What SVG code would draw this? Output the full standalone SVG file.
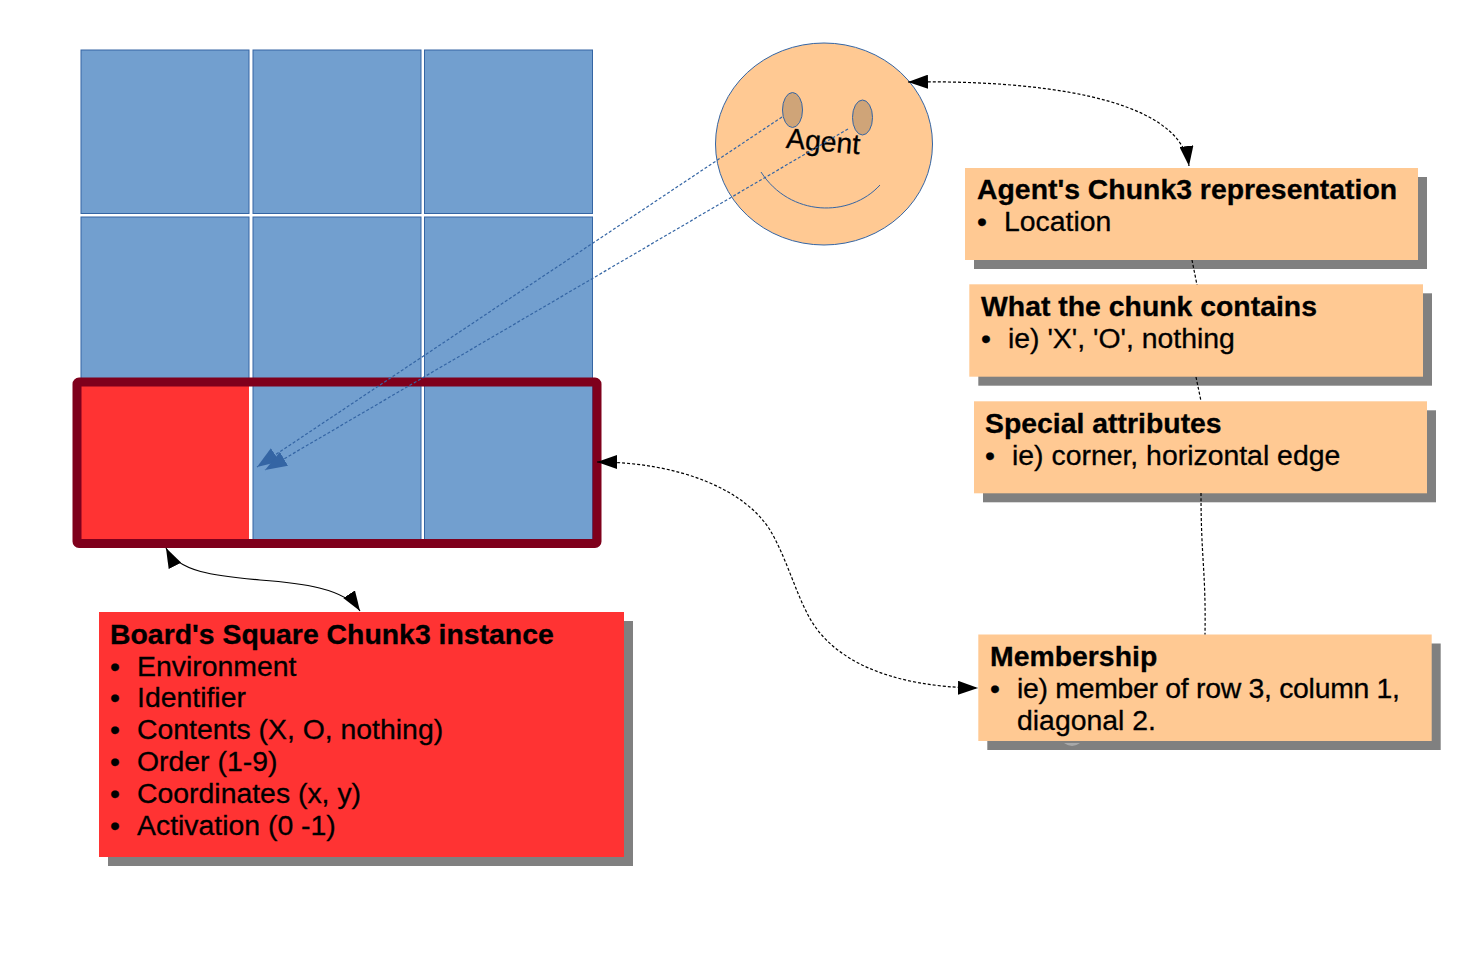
<svg xmlns="http://www.w3.org/2000/svg" width="1482" height="969" viewBox="0 0 1482 969">
<style>
.cell{fill:#729fcf;stroke:#3465a4;stroke-width:1}
.shadow{fill:#808080}
.peach{fill:#ffc993}
.red{fill:#ff3333}
text{font-family:"Liberation Sans",Arial,sans-serif;font-size:28.4px;fill:#000;stroke:#000;stroke-width:.3}
.h{font-weight:bold}
.conn{fill:none;stroke:#000;stroke-width:1.2;stroke-dasharray:3 2}
.blue{fill:none;stroke:#3465a4;stroke-width:1.2;stroke-dasharray:3 2}
.face{stroke:#3465a4;stroke-width:1}
</style>
<defs>
<marker id="ah" viewBox="0 0 20 14" refX="20" refY="7" markerWidth="20" markerHeight="14" markerUnits="userSpaceOnUse" orient="auto-start-reverse"><path d="M0 0L20 7L0 14Z" fill="#000"/></marker>
<marker id="bh" viewBox="0 0 22 16" refX="22" refY="8" markerWidth="22" markerHeight="16" markerUnits="userSpaceOnUse" orient="auto"><path d="M0 0L22 8L0 16Z" fill="#3465a4"/></marker>
</defs>
<g id="grid">
<rect id="c11" class="cell" x="81" y="50" width="168" height="163.500"/>
<rect id="c12" class="cell" x="253" y="50" width="168" height="163.500"/>
<rect id="c13" class="cell" x="424.500" y="50" width="168" height="163.500"/>
<rect id="c21" class="cell" x="81" y="217" width="168" height="163"/>
<rect id="c22" class="cell" x="253" y="217" width="168" height="163"/>
<rect id="c23" class="cell" x="424.500" y="217" width="168" height="163"/>
<rect id="c31" x="81" y="383" width="168" height="163" fill="#ff3333"/>
<rect id="c32" class="cell" x="253" y="383" width="168" height="163"/>
<rect id="c33" class="cell" x="424.500" y="383" width="168" height="163"/>
</g>
<g id="row-highlight"><rect x="77" y="382" width="520" height="161.500" rx="2" fill="none" stroke="#7f001c" stroke-width="9"/></g>
<g id="agent">
<ellipse cx="824" cy="144" rx="108.500" ry="101" fill="#ffc993" class="face"/>
<ellipse cx="792.500" cy="110" rx="10" ry="17.500" fill="#cfa478" class="face"/>
<ellipse cx="862.500" cy="117.500" rx="10" ry="17.500" fill="#cfa478" class="face"/>
<path class="face" fill="none" d="M761 172C790 217 850 218 880 185"/>
<text x="786" y="151" transform="rotate(5 823 144)">Agent</text>
</g>
<g id="connectors">
<path class="blue" d="M782 117L257 467" marker-end="url(#bh)"/>
<path class="blue" d="M848 129L265 470" marker-end="url(#bh)"/>
<path class="conn" d="M908 82C1030 80 1180 95 1189 166" marker-start="url(#ah)" marker-end="url(#ah)"/>
<path class="conn" d="M597 462C680 462 745 490 770 530C785 555 795 590 807 613C830 660 890 687 978 688" marker-start="url(#ah)" marker-end="url(#ah)"/>
<path class="conn" style="stroke-dasharray:none" d="M166 548C178 572 215 576 260 580C300 583 345 588 360 611" marker-start="url(#ah)" marker-end="url(#ah)"/>
</g>
<g id="agent-chunk">
<rect class="shadow" x="974" y="177" width="453" height="92"/>
<rect class="peach" x="965" y="168" width="453" height="92"/>
<text class="h" x="977" y="199">Agent's Chunk3 representation</text>
<text x="977" y="231">•</text><text x="1004" y="231">Location</text>
</g>
<g id="chunk-contains">
<rect class="shadow" x="978.300" y="293.300" width="453.700" height="92.400"/>
<rect class="peach" x="969.300" y="284.300" width="453.700" height="92.400"/>
<text class="h" x="981" y="316">What the chunk contains</text>
<text x="981" y="348">•</text><text x="1008" y="348">ie) 'X', 'O', nothing</text>
</g>
<g id="special">
<rect class="shadow" x="983" y="410.300" width="453" height="92"/>
<rect class="peach" x="974" y="401.300" width="453" height="92"/>
<text class="h" x="985" y="433">Special attributes</text>
<text x="985" y="465">•</text><text x="1012" y="465">ie) corner, horizontal edge</text>
</g>
<g id="membership">
<rect class="shadow" x="987.300" y="643.500" width="453.400" height="106.500"/>
<path d="M1064 743Q1072 749 1080 743Z" fill="#a8a8a8"/>
<rect class="peach" x="978.300" y="634.500" width="453.400" height="106.500"/>
<text class="h" x="990" y="666">Membership</text>
<text x="990" y="698">•</text><text x="1017" y="698" textLength="383" lengthAdjust="spacing">ie) member of row 3, column 1,</text>
<text x="1017" y="730">diagonal 2.</text>
</g>
<g id="square-chunk">
<rect class="shadow" x="108" y="621" width="525" height="245"/>
<rect class="red" x="99" y="612" width="525" height="245"/>
<text class="h" x="110" y="644">Board's Square Chunk3 instance</text>
<text x="110" y="676">•</text><text x="137" y="676">Environment</text>
<text x="110" y="707">•</text><text x="137" y="707">Identifier</text>
<text x="110" y="739">•</text><text x="137" y="739">Contents (X, O, nothing)</text>
<text x="110" y="771">•</text><text x="137" y="771">Order (1-9)</text>
<text x="110" y="803">•</text><text x="137" y="803">Coordinates (x, y)</text>
<text x="110" y="835">•</text><text x="137" y="835">Activation (0 -1)</text>
</g>
<g id="chain-connectors">
<path class="conn" d="M1192 260L1197 285M1196 377L1201 401M1201 493C1201 560 1206 570 1205 634.500"/>
</g>
</svg>
